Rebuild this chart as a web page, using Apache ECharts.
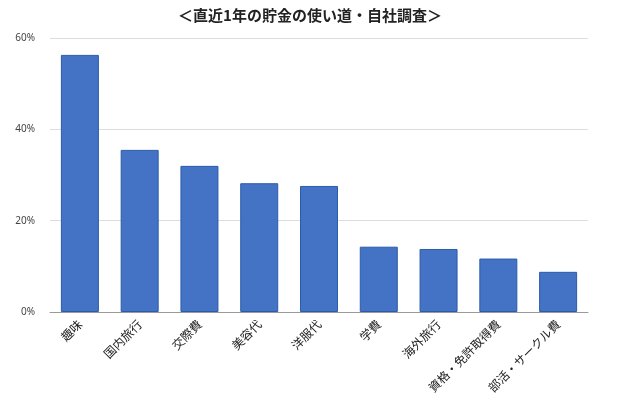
<!DOCTYPE html>
<html><head><meta charset="utf-8">
<script src="https://cdn.jsdelivr.net/npm/echarts@6/dist/echarts.min.js"></script>
<style>html,body{margin:0;padding:0;background:#fff}#c{width:620px;height:414px}</style>
</head><body><div id="c"></div>
<script>
const titleText = '＜直近1年の貯金の使い道・自社調査＞';
const categories = ['趣味','国内旅行','交際費','美容代','洋服代','学費','海外旅行','資格・免許取得費','部活・サークル費'];
const values = [56.3, 35.5, 32.0, 28.2, 27.6, 14.3, 13.8, 11.7, 8.8];
const yTicks = [0, 20, 40, 60];

const chart = echarts.init(document.getElementById('c'));
chart.setOption({
  animation: false,
  backgroundColor: '#fff',
  title: {
    text: titleText, left: 'center', top: 3,
    textStyle: {fontFamily: 'Noto Sans CJK JP', fontSize: 15, fontWeight: 'bold', color: '#222'}
  },
  grid: {left: 50, right: 32, top: 38, bottom: 102},
  xAxis: {
    type: 'category', data: categories,
    axisLine: {lineStyle: {color: '#999'}},
    axisTick: {show: false},
    axisLabel: {rotate: 45, interval: 0, margin: 10, fontSize: 12, color: '#222', fontFamily: 'Noto Sans CJK JP'}
  },
  yAxis: {
    type: 'value', min: yTicks[0], max: yTicks[yTicks.length-1], interval: 20,
    axisLine: {show: false}, axisTick: {show: false},
    axisLabel: {formatter: v => v + '%', fontSize: 10, color: '#444', margin: 15, fontFamily: 'Noto Sans'},
    splitLine: {lineStyle: {color: '#ddd'}}
  },
  series: [{
    type: 'bar', data: values, barWidth: 38,
    itemStyle: {color: '#4472C4', borderColor: '#2a5caa', borderWidth: 1}
  }]
});
</script></body></html>
